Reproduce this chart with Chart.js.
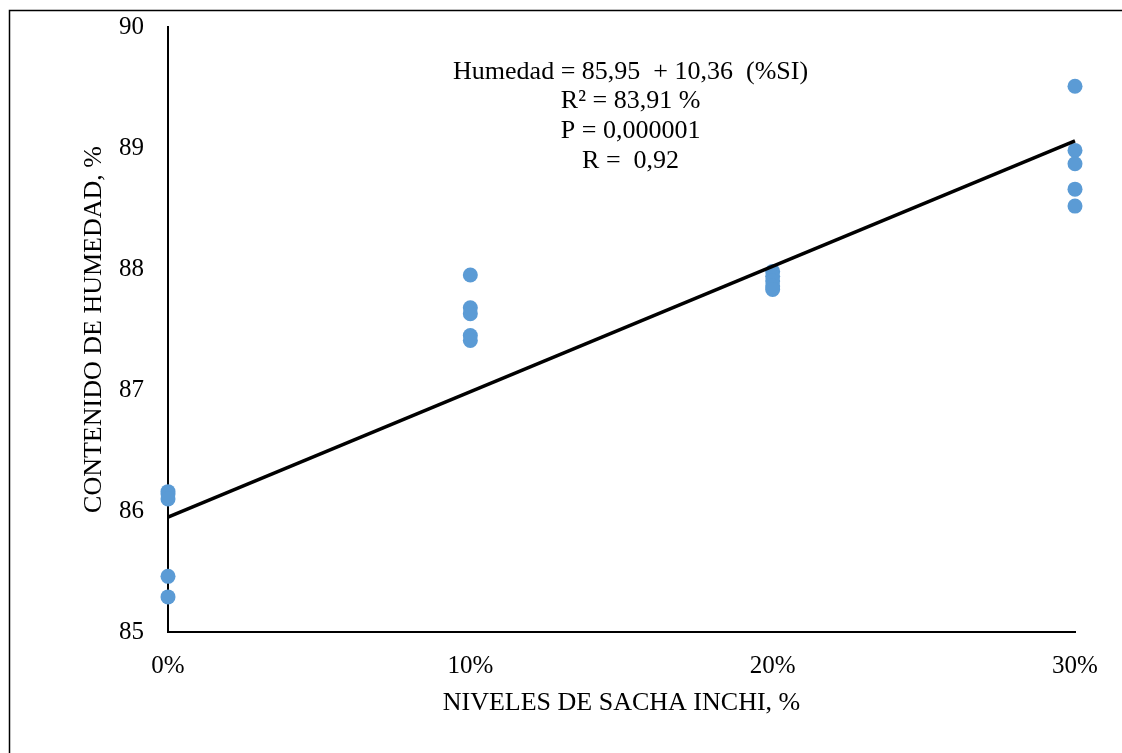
<!DOCTYPE html>
<html>
<head>
<meta charset="utf-8">
<script src="https://cdn.jsdelivr.net/npm/chart.js@4.4.0/dist/chart.umd.min.js"></script>
<style>
  html, body { margin: 0; padding: 0; background: #fff; overflow: hidden; }
  #cntHumedad { position: relative; width: 1122px; height: 753px; }
</style>
</head>
<body>
<div id="cntHumedad">
  <canvas id="cnvHumedad" width="1122" height="753"></canvas>
</div>
<script>
  // niveles de sacha inchi (fraccion) y humedad medida por repeticion
  const niveles = [0, 0.1, 0.2, 0.3];
  const humedad0 = [86.16, 86.14, 86.10, 85.46, 85.29];
  const humedad10 = [87.95, 87.68, 87.63, 87.45, 87.41];
  const humedad20 = [87.98, 87.94, 87.90, 87.86, 87.83];
  const humedad30 = [89.51, 88.98, 88.87, 88.66, 88.52];

  // recta de regresion: Humedad = a + b (%SI)
  const intercepto = 85.95;
  const pendiente = 10.36;

  const lineasTexto = [
    'Humedad = 85,95  + 10,36  (%SI)',
    'R² = 83,91 %',
    'P = 0,000001',
    'R =  0,92'
  ];

  const _puntos = [];
  [humedad0, humedad10, humedad20, humedad30].forEach(function (serie, i) {
    serie.forEach(function (h) {
      _puntos.push({ x: niveles[i], y: h });
    });
  });

  const xMin = niveles[0], xMax = niveles[niveles.length - 1];
  const _recta = [
    { x: xMin, y: intercepto + pendiente * xMin },
    { x: xMax, y: intercepto + pendiente * xMax }
  ];

  Chart.defaults.font.family = '"Liberation Serif", "Times New Roman", serif';
  Chart.defaults.color = '#000';

  // marco exterior del grafico (solo se ven borde izquierdo y superior)
  const marco = {
    id: 'marco',
    beforeDraw: function (chart) {
      const ctx = chart.ctx;
      ctx.save();
      ctx.fillStyle = '#fff';
      ctx.fillRect(0, 0, chart.width, chart.height);
      ctx.strokeStyle = '#000';
      ctx.lineWidth = 1.5;
      ctx.strokeRect(9.5, 10.5, 2000, 2000);
      ctx.restore();
    }
  };

  // ecuacion y estadisticos sobre el area de trazado
  const ecuacion = {
    id: 'ecuacion',
    afterDraw: function (chart) {
      const ctx = chart.ctx;
      const cx = chart.scales.x.getPixelForValue(0.153);
      let cy = chart.scales.y.getPixelForValue(89.63);
      ctx.save();
      ctx.font = '26px "Liberation Serif", serif';
      ctx.fillStyle = '#000';
      ctx.textAlign = 'center';
      ctx.textBaseline = 'middle';
      lineasTexto.forEach(function (t) {
        ctx.fillText(t, cx, cy);
        cy += 29.7;
      });
      ctx.restore();
    }
  };

  const config = {
    type: 'scatter',
    data: {
      datasets: [
        {
          label: 'Regresion',
          data: _recta,
          showLine: true,
          borderColor: '#000',
          borderWidth: 3.5,
          pointRadius: 0,
          clip: false,
          order: 0
        },
        {
          label: 'Humedad',
          data: _puntos,
          backgroundColor: '#5B9BD5',
          borderWidth: 0,
          pointRadius: 7.5,
          clip: false,
          order: 1
        }
      ]
    },
    options: {
      responsive: false,
      animation: false,
      devicePixelRatio: 1,
      layout: { padding: { left: 0, top: 27, right: 47, bottom: 0 } },
      plugins: {
        legend: { display: false },
        tooltip: { enabled: false }
      },
      scales: {
        x: {
          type: 'linear',
          min: xMin,
          max: xMax,
          grid: { display: false },
          border: { color: '#000', width: 2 },
          ticks: {
            stepSize: 0.1,
            padding: 11,
            font: { size: 25 },
            callback: function (v) { return Math.round(v * 100) + '%'; }
          },
          title: {
            display: true,
            text: 'NIVELES DE SACHA INCHI, %',
            font: { size: 26 },
            padding: { top: 0, bottom: 34 }
          },
          afterFit: function (s) { s.height = 121; }
        },
        y: {
          min: 85,
          max: 90,
          grid: { display: false },
          border: { color: '#000', width: 2 },
          ticks: {
            stepSize: 1,
            padding: 16,
            font: { size: 25 }
          },
          title: {
            display: true,
            text: 'CONTENIDO DE HUMEDAD, %',
            font: { size: 26 },
            padding: { top: 79, bottom: 0 }
          },
          afterFit: function (s) {
            s.width = 168;
            s.paddingTop = 0;
            s.paddingBottom = 0;
          }
        }
      }
    },
    plugins: [marco, ecuacion]
  };

  const ctx = document.getElementById('cnvHumedad').getContext('2d');
  window.graficaHumedad = new Chart(ctx, config);
</script>
</body>
</html>
